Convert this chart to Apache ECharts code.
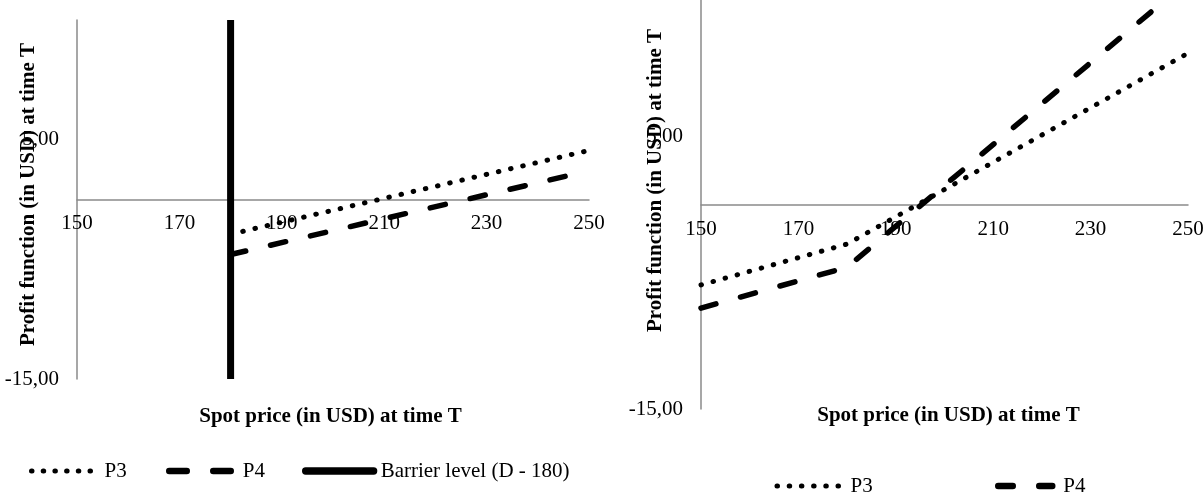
<!DOCTYPE html>
<html>
<head>
<meta charset="utf-8">
<script src="https://cdn.jsdelivr.net/npm/echarts@6/dist/echarts.min.js"></script>
<style>
html,body{margin:0;padding:0;background:#fff;}
#chart{width:1204px;height:495px;}
</style>
</head>
<body>
<div id="chart"></div>
<script>
// ---- data ----
const leftPrice   = [180, 250];
const leftP3      = [-2.9, 4.1];
const leftP4      = [-4.6, 2.4];
const barrierPrice = [180, 180];
const barrierLevel = [-15, 15];

const rightPrice  = [150, 180, 250];
const rightP3     = [-5.9, -2.9, 11.1];
const rightP4     = [-7.6, -4.6, 16.4];

const xMin = 150, xMax = 250, xStep = 20;
const yMin = -15, yMax = 15, yStep = 20;

const seriesNames = ['P3', 'P4', 'Barrier level (D - 180)'];
const xTitle = 'Spot price (in USD) at time T';
const yTitle = 'Profit function (in USD) at time T';

const zip = (xs, ys) => xs.map((x, i) => [x, ys[i]]);

const FONT = "'Liberation Serif', 'Times New Roman', serif";
const AX = '#8a8a8a';
const dotStyle  = {color: '#000', width: 5, type: [0.5, 12], cap: 'round'};
const dashStyle = {color: '#000', width: 5.5, type: [15.5, 25.5], cap: 'round'};
const solidStyle = {color: '#000', width: 7, type: 'solid', cap: 'butt'};

const grids = [
  {left: 77, top: 20, width: 512, height: 359},
  {left: 701, top: 0, width: 487, height: 409}
];
// the category axis crosses the value axis at 0 (as in the original)
const zeroOffset = g => -((0 - yMin) / (yMax - yMin)) * g.height;

function xAxis(gridIndex, nameGap, namePad, labelMargin) {
  return {
    type: 'value', gridIndex, min: xMin, max: xMax, interval: xStep,
    position: 'bottom', offset: zeroOffset(grids[gridIndex]),
    axisLine: {show: true, onZero: false, lineStyle: {color: AX, width: 1.5}},
    axisTick: {show: false}, splitLine: {show: false},
    axisLabel: {fontSize: 21, color: '#000', fontFamily: FONT, margin: labelMargin},
    name: xTitle, nameLocation: 'middle', nameGap, nameMoveOverlap: false,
    nameTextStyle: {fontSize: 21, fontWeight: 'bold', color: '#000', fontFamily: FONT, lineHeight: 22, padding: namePad}
  };
}
function yAxis(gridIndex, nameGap, namePad) {
  return {
    type: 'value', gridIndex, min: yMin, max: yMax, interval: yStep,
    axisLine: {show: true, onZero: false, lineStyle: {color: AX, width: 1.5}},
    axisTick: {show: false}, splitLine: {show: false},
    axisLabel: {fontSize: 21, color: '#000', fontFamily: FONT, margin: 18, showMaxLabel: false,
      formatter: v => v.toFixed(2).replace('.', ',')},
    name: yTitle, nameLocation: 'middle', nameGap, nameMoveOverlap: false,
    nameTextStyle: {fontSize: 21, fontWeight: 'bold', color: '#000', fontFamily: FONT, lineHeight: 22, padding: namePad}
  };
}
function legend(name, left, top, width, lineStyle, pad) {
  return {
    data: [name], left, top, padding: 0, itemWidth: width, itemHeight: 26,
    selectedMode: false,
    itemStyle: {color: 'transparent', borderColor: 'transparent', borderWidth: 0, opacity: 0},
    lineStyle: lineStyle,
    textStyle: {fontSize: 21, color: '#000', fontFamily: FONT, lineHeight: 24, padding: [0, 0, 0, pad]}
  };
}

const chart = echarts.init(document.getElementById('chart'), null, {renderer: 'canvas'});
chart.setOption({
  animation: false,
  backgroundColor: '#fff',
  grid: grids.map(g => Object.assign({containLabel: false, outerBoundsMode: 'none'}, g)),
  xAxis: [xAxis(0, 206, [0, 5, 0, 0], 13), xAxis(1, 200, [0, 0, 0, 8], 14)],
  yAxis: [yAxis(0, 37, [0, 0, 0, 10]), yAxis(1, 34, [0, 0, 0, 48])],
  legend: [
    legend(seriesNames[0], 29, 459, 62, {color: '#000', width: 5, type: [0.5, 11.2], cap: 'round'}, 6),
    legend(seriesNames[1], 166, 459, 61.5, {color: '#000', width: 6.5, type: [17.5, 26.5], cap: 'round'}, 7),
    legend(seriesNames[2], 302, 459, 68, {color: '#000', width: 7.3, type: 'solid', cap: 'round'}, 2),
    legend(seriesNames[0], 774.5, 474, 61.5, {color: '#000', width: 5, type: [0.5, 11.7], cap: 'round'}, 7),
    legend(seriesNames[1], 995, 474, 54, {color: '#000', width: 6.5, type: [14.5, 26.5], cap: 'round'}, 6)
  ],
  series: [
    {type: 'line', name: seriesNames[0], xAxisIndex: 0, yAxisIndex: 0, data: zip(leftPrice, leftP3),
      symbol: 'none', lineStyle: dotStyle, clip: true},
    {type: 'line', name: seriesNames[1], xAxisIndex: 0, yAxisIndex: 0, data: zip(leftPrice, leftP4),
      symbol: 'none', lineStyle: dashStyle, clip: true},
    {type: 'line', name: seriesNames[2], xAxisIndex: 0, yAxisIndex: 0, data: zip(barrierPrice, barrierLevel),
      symbol: 'none', lineStyle: solidStyle, clip: true},
    {type: 'line', name: seriesNames[0], xAxisIndex: 1, yAxisIndex: 1, data: zip(rightPrice, rightP3),
      symbol: 'none', lineStyle: dotStyle, clip: true},
    {type: 'line', name: seriesNames[1], xAxisIndex: 1, yAxisIndex: 1, data: zip(rightPrice, rightP4),
      symbol: 'none', lineStyle: dashStyle, clip: true}
  ]
});
</script>
</body>
</html>
